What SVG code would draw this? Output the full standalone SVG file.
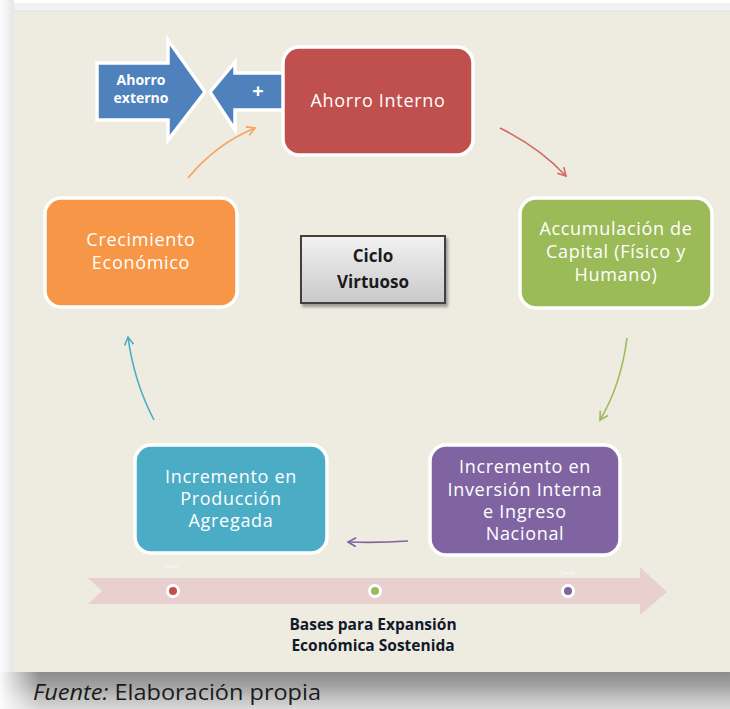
<svg xmlns="http://www.w3.org/2000/svg" width="730" height="709" viewBox="0 0 730 709">
  <style>
    .node-text { font-family: "Open Sans", "Liberation Sans", sans-serif; font-size: 18px; fill: #ffffff; text-anchor: middle; letter-spacing: 0.7px; }
    .bold-text { font-family: "Open Sans", "Liberation Sans", sans-serif; font-weight: bold; text-anchor: middle; }
    .node-box { stroke: #ffffff; stroke-width: 3.5; }
    .link { fill: none; stroke-width: 1.6; }
  </style>
  <defs>
    <linearGradient id="bottomShade" x1="0" y1="0" x2="0" y2="1">
      <stop offset="0" stop-color="#8d8d8d"/>
      <stop offset="0.35" stop-color="#a0a0a0"/>
      <stop offset="0.7" stop-color="#c2c2c2"/>
      <stop offset="1" stop-color="#d8d8d8"/>
    </linearGradient>
    <linearGradient id="leftFade" x1="0" y1="0" x2="1" y2="0">
      <stop offset="0" stop-color="#ffffff" stop-opacity="0.95"/>
      <stop offset="1" stop-color="#ffffff" stop-opacity="0"/>
    </linearGradient>
    <linearGradient id="leftEdge" x1="0" y1="0" x2="1" y2="0">
      <stop offset="0" stop-color="#fdfdfd"/>
      <stop offset="1" stop-color="#e6e6e6"/>
    </linearGradient>
    <linearGradient id="cicloFill" x1="0" y1="0" x2="0" y2="1">
      <stop offset="0" stop-color="#f2f2f2"/>
      <stop offset="1" stop-color="#c9c9c9"/>
    </linearGradient>
    <marker id="tipRed" markerUnits="userSpaceOnUse" markerWidth="12" markerHeight="12" refX="9" refY="5" orient="auto">
      <path d="M1,0.5 L9,5 L1,9.5" fill="none" stroke="#d06a66" stroke-width="1.6"/>
    </marker>
    <marker id="tipGreen" markerUnits="userSpaceOnUse" markerWidth="12" markerHeight="12" refX="9" refY="5" orient="auto">
      <path d="M1,0.5 L9,5 L1,9.5" fill="none" stroke="#9bbb59" stroke-width="1.6"/>
    </marker>
    <marker id="tipPurple" markerUnits="userSpaceOnUse" markerWidth="12" markerHeight="12" refX="9" refY="5" orient="auto">
      <path d="M1,0.5 L9,5 L1,9.5" fill="none" stroke="#8064a2" stroke-width="1.6"/>
    </marker>
    <marker id="tipCyan" markerUnits="userSpaceOnUse" markerWidth="12" markerHeight="12" refX="9" refY="5" orient="auto">
      <path d="M1,0.5 L9,5 L1,9.5" fill="none" stroke="#4bacc6" stroke-width="1.6"/>
    </marker>
    <marker id="tipOrange" markerUnits="userSpaceOnUse" markerWidth="12" markerHeight="12" refX="9" refY="5" orient="auto">
      <path d="M1,0.5 L9,5 L1,9.5" fill="none" stroke="#f7a25e" stroke-width="1.6"/>
    </marker>
    <filter id="softShadow" x="-10%" y="-10%" width="130%" height="140%">
      <feDropShadow dx="2" dy="3" stdDeviation="1.5" flood-color="#000000" flood-opacity="0.35"/>
    </filter>
  </defs>

  <!-- page frame and background -->
  <rect x="0" y="0" width="730" height="709" fill="#ffffff"/>
  <rect x="0" y="3" width="730" height="8" fill="#f2f2f2"/>
  <rect x="0" y="10" width="730" height="3" fill="#e7e7e7"/>
  <rect x="0" y="0" width="14" height="672" fill="url(#leftEdge)"/>
  <rect x="14" y="12" width="716" height="660" fill="#eeebe0"/>
  <rect x="0" y="672" width="730" height="37" fill="url(#bottomShade)"/>
  <rect x="0" y="672" width="40" height="37" fill="url(#leftFade)"/>

  <!-- timeline arrow -->
  <g id="timeline">
    <polygon points="88,578 640,578 640,567 667,592 640,615 640,604 88,604 102,591" fill="#e8d0d1"/>
    <circle cx="173" cy="591" r="7" fill="#ffffff"/>
    <circle cx="173" cy="591" r="4" fill="#c0504d"/>
    <circle cx="375" cy="591" r="7" fill="#ffffff"/>
    <circle cx="375" cy="591" r="4" fill="#9bbb59"/>
    <circle cx="568" cy="591" r="7" fill="#ffffff"/>
    <circle cx="568" cy="591" r="4" fill="#8064a2"/>
    <text x="171" y="568" font-family="Liberation Sans, sans-serif" font-size="6" fill="#ffffff" fill-opacity="0.8" text-anchor="middle">[Text]</text>
    <text x="567" y="575" font-family="Liberation Sans, sans-serif" font-size="6" fill="#ffffff" fill-opacity="0.8" text-anchor="middle">[Text]</text>
  </g>

  <!-- connectors -->
  <g id="connectors">
    <path class="link" d="M500,128 Q540,148 566,176" stroke="#d06a66" marker-end="url(#tipRed)"/>
    <path class="link" d="M627,338 Q621,385 600,420" stroke="#9bbb59" marker-end="url(#tipGreen)"/>
    <path class="link" d="M408,541 Q378,543 348,542" stroke="#8064a2" marker-end="url(#tipPurple)"/>
    <path class="link" d="M154,420 Q134,382 128,337" stroke="#4bacc6" marker-end="url(#tipCyan)"/>
    <path class="link" d="M188,178 Q216,144 255,128" stroke="#f7a25e" marker-end="url(#tipOrange)"/>
  </g>

  <!-- external savings arrow -->
  <g id="ahorro-externo">
    <polygon points="97,63 168,63 168,40 205,92 168,140 168,120 97,120" fill="#4f81bd" stroke="#ffffff" stroke-width="3.5" stroke-linejoin="miter"/>
    <text class="bold-text" x="141" y="85" font-size="14" fill="#ffffff">Ahorro</text>
    <text class="bold-text" x="141" y="103" font-size="14" fill="#ffffff">externo</text>
  </g>

  <!-- "+" arrow pointing left -->
  <g id="suma">
    <polygon points="300,73 235,73 235,62 210,92 235,130 235,110 300,110" fill="#4f81bd" stroke="#ffffff" stroke-width="3.5"/>
    <text class="bold-text" x="258" y="98" font-size="20" fill="#ffffff">+</text>
  </g>

  <!-- cycle nodes -->
  <g id="ahorro-interno">
    <rect class="node-box" x="283" y="47" width="190" height="108" rx="16" fill="#c0504d"/>
    <text class="node-text" x="378" y="107">Ahorro Interno</text>
  </g>

  <g id="acumulacion">
    <rect class="node-box" x="520" y="198" width="192" height="110" rx="16" fill="#9bbb59"/>
    <text class="node-text" x="616" y="235">Accumulación de</text>
    <text class="node-text" x="616" y="258">Capital (Físico y</text>
    <text class="node-text" x="616" y="281">Humano)</text>
  </g>

  <g id="inversion">
    <rect class="node-box" x="430" y="445" width="190" height="110" rx="16" fill="#8064a2"/>
    <text class="node-text" x="525" y="473">Incremento en</text>
    <text class="node-text" x="525" y="496">Inversión Interna</text>
    <text class="node-text" x="525" y="518">e Ingreso</text>
    <text class="node-text" x="525" y="540">Nacional</text>
  </g>

  <g id="produccion">
    <rect class="node-box" x="135" y="445" width="192" height="108" rx="16" fill="#4bacc6"/>
    <text class="node-text" x="231" y="483">Incremento en</text>
    <text class="node-text" x="231" y="505">Producción</text>
    <text class="node-text" x="231" y="527">Agregada</text>
  </g>

  <g id="crecimiento">
    <rect class="node-box" x="45" y="198" width="192" height="109" rx="16" fill="#f79646"/>
    <text class="node-text" x="141" y="246">Crecimiento</text>
    <text class="node-text" x="141" y="269">Económico</text>
  </g>

  <!-- centre label -->
  <g id="ciclo-virtuoso">
    <rect x="301" y="236" width="144" height="67" fill="url(#cicloFill)" stroke="#3f3f3f" stroke-width="2" filter="url(#softShadow)"/>
    <text class="bold-text" x="373" y="262" font-size="17" fill="#1a1a1a">Ciclo</text>
    <text class="bold-text" x="373" y="288" font-size="17" fill="#1a1a1a">Virtuoso</text>
  </g>

  <!-- caption under the timeline -->
  <g id="bases">
    <text class="bold-text" x="373" y="630" font-size="15.5" fill="#111a2a">Bases para Expansión</text>
    <text class="bold-text" x="373" y="651" font-size="15.5" fill="#111a2a">Económica Sostenida</text>
  </g>

  <!-- source note -->
  <text x="33" y="700" font-family="Open Sans, Liberation Sans, sans-serif" font-size="21" textLength="288" lengthAdjust="spacingAndGlyphs" fill="#1a1a1a"><tspan font-style="italic">Fuente:</tspan> Elaboración propia</text>
</svg>
